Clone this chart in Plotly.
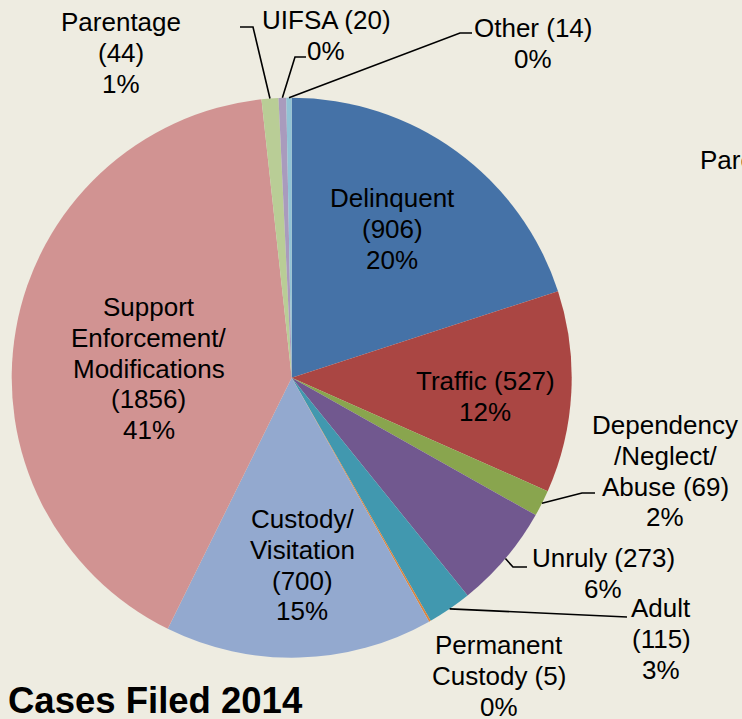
import math
import plotly.graph_objects as go

# ---------------- data ----------------
categories = ["Delinquent", "Traffic", "Dependency/Neglect/Abuse", "Unruly", "Adult",
              "Permanent Custody", "Custody/Visitation", "Support Enforcement/Modifications",
              "Parentage", "UIFSA", "Other"]
cases = [906, 527, 69, 273, 115, 5, 700, 1856, 44, 20, 14]
title_text = "Cases Filed 2014"

# ---------------- style ----------------
W, H = 742, 719
BG = "#EEECE1"
colors = ["#4572A7", "#AA4643", "#89A54E", "#71588F", "#4198AF", "#DB843D",
          "#93A9CF", "#D19392", "#B9CD96", "#A99BBD", "#91C3D5"]
FONT = "Liberation Sans, Arial, sans-serif"
FS = 26
LS = 30.8
CX, CY, R = 291.7, 377.7, 280.0

# label line templates (text layout) and positions (centre x, first line y) in px
label_layout = {
    "Delinquent": (["Delinquent", "({v})", "{p}%"], 392, 198),
    "Traffic": (["Traffic ({v})", "{p}%"], 485, 381),
    "Dependency/Neglect/Abuse": (["Dependency", "/Neglect/", "Abuse ({v})", "{p}%"], 665, 425),
    "Unruly": (["Unruly ({v})", "{p}%"], 603, 558),
    "Adult": (["Adult", "({v})", "{p}%"], 661, 608),
    "Permanent Custody": (["Permanent", "Custody ({v})", "{p}%"], 499, 645),
    "Custody/Visitation": (["Custody/", "Visitation", "({v})", "{p}%"], 302, 519),
    "Support Enforcement/Modifications": (["Support", "Enforcement/", "Modifications", "({v})", "{p}%"], 148.5, 307),
    "Parentage": (["Parentage", "({v})", "{p}%"], 121, 22),
    "UIFSA": (["UIFSA ({v})", "{p}%"], 326, 20),
    "Other": (["Other ({v})", "{p}%"], 533, 28),
}
# leader line label-side points (px)
leader_points = {
    "Parentage": [(253, 27), (240, 27)],
    "UIFSA": [(295, 57), (306, 57)],
    "Other": [(460, 33), (472, 33)],
    "Dependency/Neglect/Abuse": [(582, 493), (595, 493)],
    "Unruly": [(513, 567), (527, 567)],
    "Adult": [(627, 617)],
}


def px(x):
    return x / W


def py(y):
    return 1 - y / H


total = sum(cases)

fig = go.Figure()
fig.add_trace(go.Pie(
    labels=categories, values=cases, sort=False, direction="clockwise", rotation=0,
    marker=dict(colors=colors, line=dict(width=0)),
    textinfo="none", hoverinfo="label+value+percent", showlegend=False,
    domain=dict(x=[px(CX - R), px(CX + R)], y=[py(CY + R), py(CY - R)]),
))

annotations = []
for cat, val in zip(categories, cases):
    lines, lx, ly = label_layout[cat]
    pct = round(val / total * 100)
    for i, ln in enumerate(lines):
        annotations.append(dict(
            x=px(lx), y=py(ly + i * LS), xref="paper", yref="paper",
            text=ln.format(v=val, p=pct), showarrow=False,
            xanchor="center", yanchor="middle",
            font=dict(family=FONT, size=FS, color="#000000")))

# clipped label of a neighbouring chart at the right edge
annotations.append(dict(x=px(698), y=py(160), xref="paper", yref="paper", text="Parentage",
                        showarrow=False, xanchor="left", yanchor="middle",
                        font=dict(family=FONT, size=FS, color="#000000")))

annotations.append(dict(x=px(6), y=py(700), xref="paper", yref="paper", text="<b>" + title_text + "</b>",
                        showarrow=False, xanchor="left", yanchor="middle",
                        font=dict(family=FONT, size=36.5, color="#000000")))

# leader lines: start at slice mid-angle on pie edge
shapes = []
cum = 0
for cat, val in zip(categories, cases):
    mid = (cum + val / 2) / total
    cum += val
    if cat not in leader_points:
        continue
    ang = 2 * math.pi * mid
    sx = CX + R * math.sin(ang)
    sy = CY - R * math.cos(ang)
    pts = [(sx, sy)] + leader_points[cat]
    path = "M " + " L ".join(f"{px(x):.5f},{py(y):.5f}" for x, y in pts)
    shapes.append(dict(type="path", xref="paper", yref="paper", path=path,
                       line=dict(color="#000000", width=1.6)))

fig.update_layout(
    width=W, height=H, margin=dict(l=0, r=0, t=0, b=0),
    paper_bgcolor=BG, plot_bgcolor=BG,
    annotations=annotations, shapes=shapes,
)

fig.write_html("out.html", config={"displayModeBar": False},
               post_script="document.body.style.margin='0';document.body.style.overflow='hidden';")
